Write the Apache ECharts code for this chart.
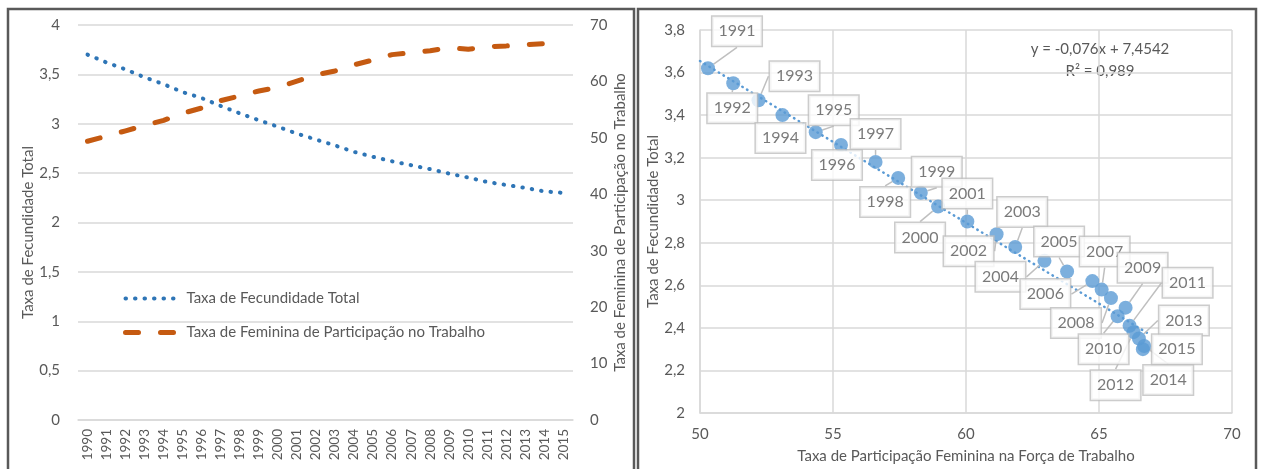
<!DOCTYPE html>
<html><head><meta charset="utf-8">
<script src="https://cdn.jsdelivr.net/npm/echarts@6/dist/echarts.min.js"></script>
<style>html,body{margin:0;padding:0;background:#fff}#c{width:1261px;height:469px}</style>
</head><body><div id="c"></div>
<script>
const years = ['1990','1991','1992','1993','1994','1995','1996','1997','1998','1999','2000','2001','2002','2003','2004','2005','2006','2007','2008','2009','2010','2011','2012','2013','2014','2015'];
const fertility = [3.70,3.62,3.55,3.47,3.40,3.32,3.26,3.18,3.105,3.035,2.97,2.90,2.84,2.78,2.715,2.665,2.62,2.58,2.54,2.495,2.455,2.41,2.38,2.35,2.315,2.30];
const participation = [49.4,50.3,51.25,52.2,53.1,54.35,55.3,56.6,57.45,58.3,58.95,60.05,61.15,61.85,62.95,63.8,64.75,65.1,65.45,66.0,65.7,66.15,66.3,66.5,66.7,66.65];
const leftTicks = {min:0,max:4,interval:0.5};
const rightTicks = {min:0,max:70,interval:10};
const scatterXTicks = {min:50,max:70,interval:5};
const scatterYTicks = {min:2,max:3.8,interval:0.2};
const trend = {slope:-0.076, intercept:7.4542, from:50, to:66.9};
const seriesNames = ['Taxa de Fecundidade Total','Taxa de Feminina de Participação no Trabalho'];

// callout offsets (layout only), per scatter point 1991..2015
const calloutOffsets = [[29,-37],[-1,25],[36,-24],[-2,23],[18,-22],[-4,20],[0,-28],[-13,24],[16,-21],[-18,31],[0,-28],[-28,17],[7,-35],[-44,16],[-8,-30],[-47,13],[3,-38],[-35,25],[17,-40],[-14,33],[58,-43],[-18,53],[45,-18],[24,34],[34,0]];

const scatterData = [];
for (let i = 1; i < years.length; i++) scatterData.push([participation[i], fertility[i], years[i]]);
const trendData = [[trend.from, trend.slope*trend.from+trend.intercept],[trend.to, trend.slope*trend.to+trend.intercept]];

const FONT = 'Lato';
const TXT = '#595959';
const GRID = '#d9d9d9';
const comma = v => String(v).replace('.', ',');
const dotStyle = {color:'#2e75b6', width:4, type:[0.5,9], cap:'round'};
const dashStyle = {color:'#c55a11', width:5, type:[13,22], cap:'round'};

const chart = echarts.init(document.getElementById('c'), null, {renderer:'canvas'});
chart.setOption({
  animation:false,
  textStyle:{fontFamily:FONT},
  grid:[
    {left:78, right:688, top:25, bottom:49},
    {left:700, right:29, top:30, bottom:56}
  ],
  legend:{
    orient:'vertical', left:118, top:286, itemGap:19, itemWidth:56, itemHeight:14,
    itemStyle:{opacity:0},
    textStyle:{color:TXT, fontSize:15, fontFamily:FONT},
    data:[
      {name:seriesNames[0], lineStyle:{width:4, type:[0.5,9], cap:'round', color:'#2e75b6'}},
      {name:seriesNames[1], lineStyle:{width:5, type:[13,22], cap:'round', color:'#c55a11'}}
    ]
  },
  xAxis:[
    {gridIndex:0, type:'category', data:years, boundaryGap:true,
     axisLine:{lineStyle:{color:GRID,width:1.5}}, axisTick:{show:false},
     axisLabel:{rotate:90, color:TXT, fontSize:13.5, margin:9, interval:0, fontFamily:FONT}},
    {gridIndex:1, type:'value', min:scatterXTicks.min, max:scatterXTicks.max, interval:scatterXTicks.interval,
     axisLine:{show:true, onZero:false, lineStyle:{color:GRID,width:1.5}}, axisTick:{show:false},
     splitLine:{show:true, lineStyle:{color:GRID,width:1.5}},
     axisLabel:{color:TXT, fontSize:15, margin:14, formatter:comma, fontFamily:FONT},
     name:'Taxa de Participação Feminina na Força de Trabalho', nameLocation:'middle', nameGap:36,
     nameTextStyle:{color:TXT, fontSize:15, fontFamily:FONT}}
  ],
  yAxis:[
    {gridIndex:0, type:'value', min:leftTicks.min, max:leftTicks.max, interval:leftTicks.interval,
     axisLine:{show:false}, axisTick:{show:false},
     splitLine:{lineStyle:{color:GRID,width:1.5}},
     axisLabel:{color:TXT, fontSize:15, margin:18, formatter:comma, fontFamily:FONT},
     name:'Taxa de Fecundidade Total', nameLocation:'middle', nameGap:41,
     nameTextStyle:{color:TXT, fontSize:15, fontFamily:FONT, padding:[0,0,0,-20]}},
    {gridIndex:0, type:'value', position:'right', min:rightTicks.min, max:rightTicks.max, interval:rightTicks.interval,
     axisLine:{show:false}, axisTick:{show:false}, splitLine:{show:false},
     axisLabel:{color:TXT, fontSize:15, margin:17, fontFamily:FONT},
     name:'Taxa de Feminina de Participação no Trabalho', nameLocation:'middle', nameGap:40, nameRotate:90,
     nameTextStyle:{color:TXT, fontSize:15, fontFamily:FONT}},
    {gridIndex:1, type:'value', min:scatterYTicks.min, max:scatterYTicks.max, interval:scatterYTicks.interval,
     axisLine:{show:true, onZero:false, lineStyle:{color:GRID,width:1.5}}, axisTick:{show:false},
     splitLine:{lineStyle:{color:GRID,width:1.5}},
     axisLabel:{color:TXT, fontSize:15, margin:15, formatter:v=>comma(Math.round(v*10)/10), fontFamily:FONT},
     name:'Taxa de Fecundidade Total', nameLocation:'middle', nameGap:38,
     nameTextStyle:{color:TXT, fontSize:15, fontFamily:FONT}}
  ],
  series:[
    {name:seriesNames[0], type:'line', xAxisIndex:0, yAxisIndex:0, data:fertility, showSymbol:false, symbol:'none',
     lineStyle:dotStyle, itemStyle:{color:'#2e75b6'}},
    {name:seriesNames[1], type:'line', xAxisIndex:0, yAxisIndex:1, data:participation, showSymbol:false, symbol:'none',
     lineStyle:dashStyle, itemStyle:{color:'#c55a11'}},
    {type:'line', xAxisIndex:1, yAxisIndex:2, data:trendData, showSymbol:false, symbol:'none', silent:true,
     lineStyle:{color:'#5b9bd5', width:2.5, type:[0.5,5], cap:'round'}, z:1},
    {type:'scatter', xAxisIndex:1, yAxisIndex:2, data:scatterData, symbolSize:14,
     itemStyle:{color:'#5b9bd5'}, z:3,
     label:{show:true, position:'inside', formatter:p=>p.value[2], color:TXT, fontSize:16, fontFamily:FONT,
       backgroundColor:'#fff', borderColor:'#bfbfbf', borderWidth:1.5, padding:[7,6,6,6]},
     labelLine:{show:true, lineStyle:{color:'#bfbfbf', width:1.5}},
     labelLayout:function(p){
       const o = calloutOffsets[p.dataIndex];
       return {x:p.rect.x+p.rect.width/2+o[0], y:p.rect.y+p.rect.height/2+o[1], align:'center', verticalAlign:'middle', hideOverlap:false};
     }}
  ],
  graphic:[
    {type:'rect', shape:{x:8,y:9,width:626,height:480}, style:{fill:'none', stroke:'#595959', lineWidth:2.5}, z:100},
    {type:'rect', shape:{x:638,y:9,width:618,height:480}, style:{fill:'none', stroke:'#595959', lineWidth:2.5}, z:100},
    {type:'text', x:1100, y:49, style:{text:'y = -0,076x + 7,4542', fill:TXT, font:'15px '+FONT, align:'center', verticalAlign:'middle'}},
    {type:'text', x:1100, y:71, style:{text:'R² = 0,989', fill:TXT, font:'15px '+FONT, align:'center', verticalAlign:'middle'}}
  ]
});
</script></body></html>
